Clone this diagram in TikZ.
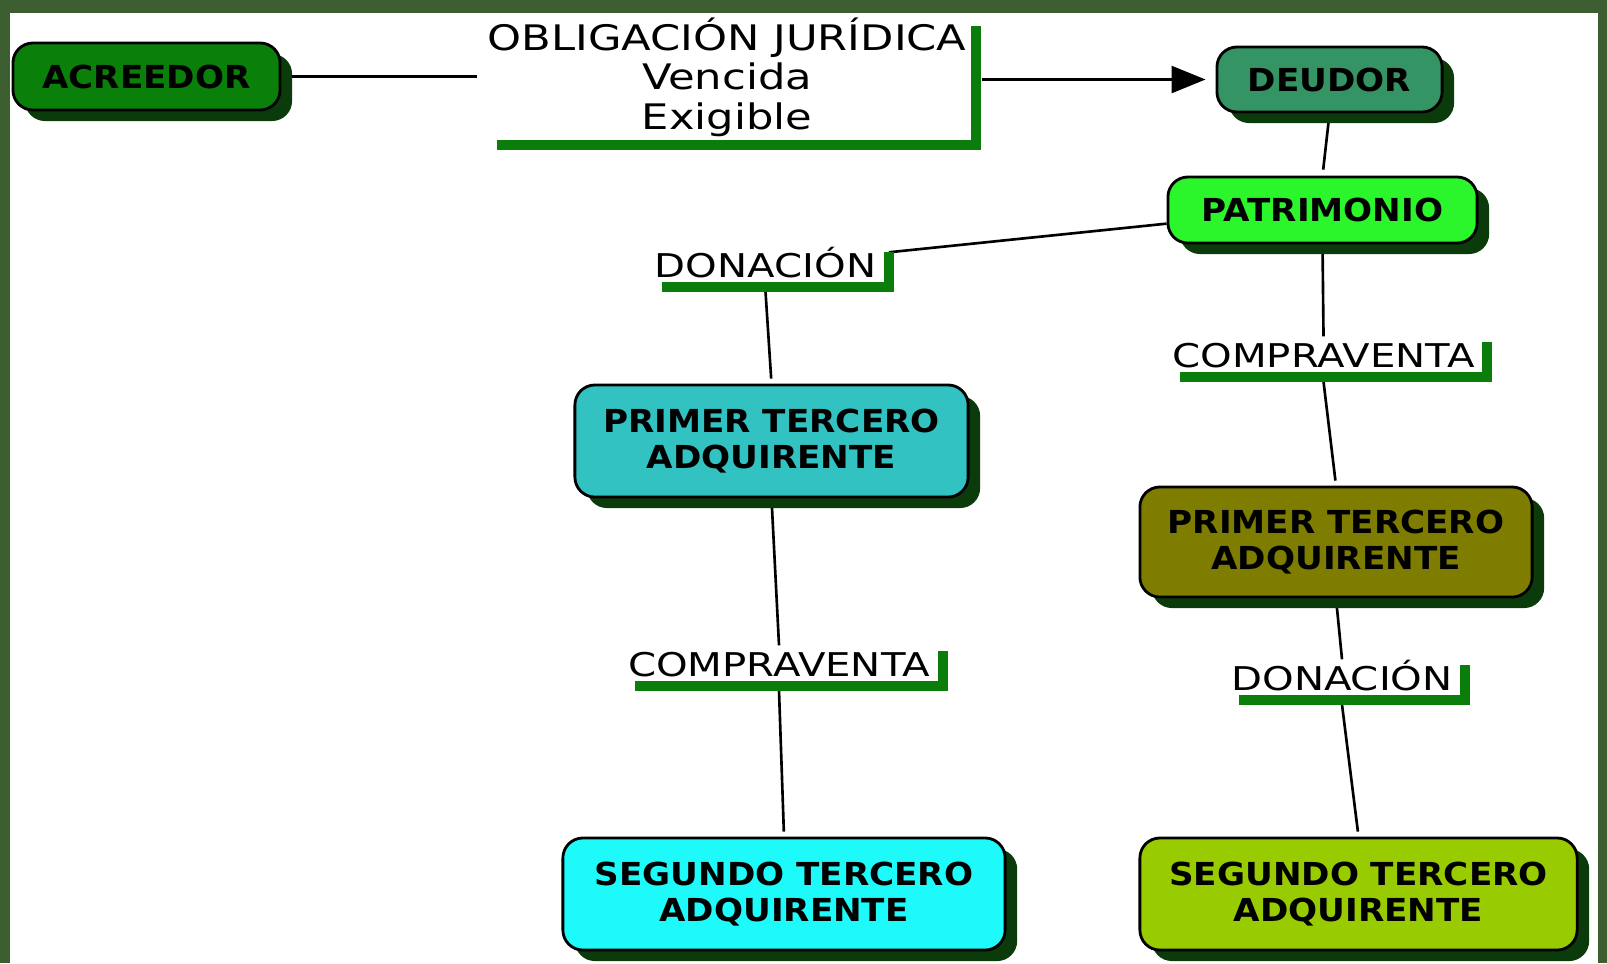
\documentclass[tikz,border=0pt]{standalone}
\usepackage{fontspec}
\setmainfont{DejaVu Sans}[FakeStretch=1.23]
\newfontfamily\boxfont{DejaVu Sans}[FakeStretch=1.08]
\usetikzlibrary{backgrounds,shadows,arrows.meta}
\definecolor{frame}{HTML}{3C5E31}
\definecolor{leaf}{HTML}{0B7D0B}
\definecolor{shade}{HTML}{0B3B0B}
\definecolor{acreedor}{HTML}{0A800A}
\definecolor{deudor}{HTML}{359463}
\definecolor{patri}{HTML}{2BF52B}
\definecolor{primerA}{HTML}{33C2C2}
\definecolor{segundoA}{HTML}{1EFAFA}
\definecolor{primerB}{HTML}{7F7D00}
\definecolor{segundoB}{HTML}{99CC00}

\tikzset{
	box/.style={draw=black,line width=0.8pt,rounded corners=0.2cm,align=center,inner sep=0pt,
		font=\boxfont\fontsize{9}{10.4}\bfseries\selectfont,
		drop shadow={shadow xshift=0.12cm,shadow yshift=-0.11cm,opacity=1,fill=shade}},
	tag/.style={font=\fontsize{9.3}{11}\selectfont,inner sep=0pt,text height=0.24cm,text depth=0pt,anchor=base},
	bar/.style={draw=leaf,line width=0.1cm},
	link/.style={draw=black,line width=0.75pt},
}
\newcommand{\tagbar}[1]{\draw[bar] ([shift={(8,9)}]#1.south west) -| ([shift={(12,0)}]#1.north east) coordinate (#1t);}

\begin{document}
\begin{tikzpicture}[x=0.01cm,y=-0.01cm]
	\useasboundingbox (0,0) rectangle (1607,963);
	%boxes
	\node[box,fill=acreedor,minimum width=2.67cm,minimum height=0.67cm] (acr) at (146.5,76.5) {ACREEDOR};
	\node[box,fill=deudor,minimum width=2.25cm,minimum height=0.65cm] (deu) at (1329.5,79.5) {DEUDOR};
	\node[box,fill=patri,minimum width=3.09cm,minimum height=0.66cm] (pat) at (1322.5,210) {PATRIMONIO};
	\node[box,fill=primerA,minimum width=3.93cm,minimum height=1.12cm] (pA) at (771.5,441) {PRIMER TERCERO\\ADQUIRENTE};
	\node[box,fill=segundoA,minimum width=4.42cm,minimum height=1.12cm] (sA) at (784,894) {SEGUNDO TERCERO\\ADQUIRENTE};
	\node[box,fill=primerB,minimum width=3.92cm,minimum height=1.10cm] (pB) at (1336,542) {PRIMER TERCERO\\ADQUIRENTE};
	\node[box,fill=segundoB,minimum width=4.37cm,minimum height=1.12cm] (sB) at (1358.5,894) {SEGUNDO TERCERO\\ADQUIRENTE};
	%labels
	\node[font=\fontsize{10}{11.1}\selectfont,align=center,inner sep=0pt,anchor=base] (ob) at (727,129) {OBLIGACIÓN JURÍDICA\\Vencida\\Exigible};
	\node[tag] (dA) at (765.5,277) {DONACIÓN};
	\node[tag] (cA) at (779,676) {COMPRAVENTA};
	\node[tag] (cB) at (1323.5,367) {COMPRAVENTA};
	\node[tag] (dB) at (1342,690) {DONACIÓN};
	%green bars
	\draw[bar] ([shift={(10,8)}]ob.south west) -| ([shift={(9,8)}]ob.north east) coordinate (obt);
	\tagbar{dA}
	\tagbar{cA}
	\tagbar{cB}
	\tagbar{dB}
	%links
	\begin{scope}[on background layer]
		\fill[frame] (0,0) rectangle (1607,963);
		\fill[white] (10,13) rectangle (1598,963);
		\draw[link,shorten >=0.1cm] (acr.east) -- (acr.east -| ob.west);
		\draw[link,-{Triangle[length=0.34cm,width=0.27cm]},shorten <=0.06cm,shorten >=0.1cm] (deu.west -| obt) -- (deu.west);
		\draw[link,shorten >=0.06cm] (deu.south) -- (pat.north);
		\draw[link] (pat.185) -- (dAt);
		\draw[link,shorten >=0.05cm] ([shift={(0,14)}]dA.south) -- (pA.north);
		\draw[link] (pA.south) -- ([shift={(0,-6)}]cA.north);
		\draw[link,shorten >=0.05cm] ([shift={(0,14)}]cA.south) -- (sA.north);
		\draw[link] (pat.south) -- ([shift={(0,-6)}]cB.north);
		\draw[link,shorten >=0.05cm] ([shift={(0,14)}]cB.south) -- (pB.north);
		\draw[link] (pB.south) -- ([shift={(0,-6)}]dB.north);
		\draw[link,shorten >=0.05cm] ([shift={(0,14)}]dB.south) -- (sB.north);
	\end{scope}
\end{tikzpicture}
\end{document}
